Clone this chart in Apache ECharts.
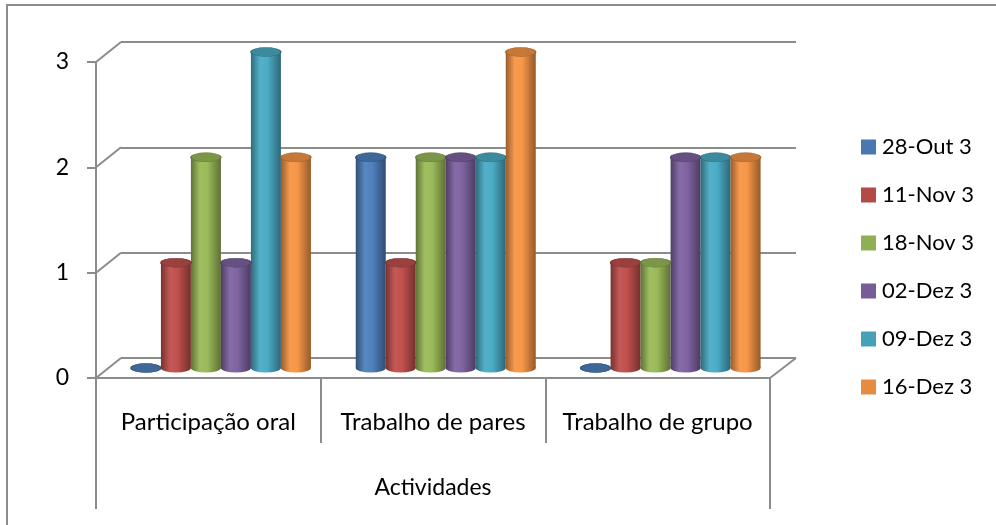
<!DOCTYPE html>
<html>
<head>
<meta charset="utf-8">
<script src="https://cdn.jsdelivr.net/npm/echarts@6/dist/echarts.min.js"></script>
<style>
  html, body { margin: 0; padding: 0; background: #fff; }
  #main { width: 996px; height: 525px; }
</style>
</head>
<body>
<div id="main"></div>
<script>
// categorias e valores
var categories = ['Participação oral', 'Trabalho de pares', 'Trabalho de grupo'];
var seriesNames = ['28-Out 3', '11-Nov 3', '18-Nov 3', '02-Dez 3', '09-Dez 3', '16-Dez 3'];
var out28 = [0, 2, 0];
var nov11 = [1, 1, 1];
var nov18 = [2, 2, 1];
var dez02 = [1, 2, 2];
var dez09 = [3, 2, 2];
var dez16 = [2, 3, 2];
var yTicks = [0, 1, 2, 3];
var axisName = 'Actividades';

var seriesData = [out28, nov11, nov18, dez02, dez09, dez16];
var colors = ['#4F81BD', '#C0504D', '#9BBB59', '#8064A2', '#4BACC6', '#F79646'];
var gray = '#8c8c8c';
var font = 'Lato';
var barW = 30;

function shade(hex, f) {
    var n = parseInt(hex.slice(1), 16);
    var r = (n >> 16) & 255, g = (n >> 8) & 255, b = n & 255;
    function c(v) {
        v = f < 1 ? v * f : v + (255 - v) * (f - 1);
        return Math.max(0, Math.min(255, Math.round(v)));
    }
    return 'rgb(' + c(r) + ',' + c(g) + ',' + c(b) + ')';
}

function cylGrad(col) {
    return new echarts.graphic.LinearGradient(0, 0, 1, 0, [
        {offset: 0, color: shade(col, 0.62)},
        {offset: 0.3, color: shade(col, 1.05)},
        {offset: 0.55, color: col},
        {offset: 1, color: shade(col, 0.6)}
    ]);
}

var series = [];
seriesNames.forEach(function (name, i) {
    var col = colors[i];
    var off = (i - (seriesNames.length - 1) / 2) * barW;
    // base do cilindro
    series.push({
        name: name, type: 'scatter', xAxisIndex: 3, yAxisIndex: 2,
        symbol: 'circle', symbolSize: [barW, 9], symbolOffset: [off, 0],
        itemStyle: {color: cylGrad(col), opacity: 1},
        data: seriesData[i].map(function () { return 0; }),
        silent: true, z: 2
    });
    // corpo
    series.push({
        name: name, type: 'bar', xAxisIndex: 3, yAxisIndex: 2,
        barWidth: barW, barGap: '0%', barCategoryGap: '20%',
        itemStyle: {color: cylGrad(col)},
        data: seriesData[i], z: 3
    });
    // topo
    series.push({
        name: name, type: 'scatter', xAxisIndex: 3, yAxisIndex: 2,
        symbol: 'circle', symbolSize: [barW, 9], symbolOffset: [off, 0],
        itemStyle: {color: shade(col, 0.8), borderColor: shade(col, 0.65), borderWidth: 0.8, opacity: 1},
        data: seriesData[i], silent: true, z: 4
    });
});

var chart = echarts.init(document.getElementById('main'));
var option = {
    animation: false,
    backgroundColor: '#fff',
    textStyle: {fontFamily: font},
    legend: {
        orient: 'vertical',
        left: 861,
        top: 136,
        padding: 0,
        itemWidth: 15,
        itemHeight: 15,
        itemGap: 26,
        icon: 'rect',
        data: seriesNames.map(function (n, i) {
            return {name: n, itemStyle: {color: shade(colors[i], 0.93)}};
        }),
        textStyle: {fontFamily: font, fontSize: 22, color: '#000', padding: [0, 0, 0, 1]}
    },
    grid: [
        {left: 96, right: 226, top: 62, bottom: 147},     // frente
        {left: 121, right: 200, top: 42, bottom: 167},    // parede do fundo
        {left: 108.5, right: 213, top: 52, bottom: 157}   // plano dos cilindros
    ],
    xAxis: [
        {
            gridIndex: 0, type: 'category', data: categories, position: 'bottom',
            axisLine: {show: true, lineStyle: {color: gray, width: 2}},
            axisTick: {show: true, interval: 0, length: 65, lineStyle: {color: gray, width: 2}},
            axisLabel: {interval: 0, margin: 32, fontSize: 24, color: '#000', fontFamily: font}
        },
        {
            gridIndex: 0, type: 'category', data: [axisName], position: 'bottom', offset: 0,
            axisLine: {show: false},
            axisTick: {show: true, length: 131, lineStyle: {color: gray, width: 2}},
            axisLabel: {margin: 98, fontSize: 23, color: '#000', fontFamily: font}
        },
        {gridIndex: 1, type: 'category', data: categories, show: false},
        {gridIndex: 2, type: 'category', data: categories, show: false}
    ],
    yAxis: [
        {
            gridIndex: 0, type: 'value', min: 0, max: 3, interval: 1,
            axisLine: {show: true, lineStyle: {color: gray, width: 2}},
            axisTick: {show: true, length: 9, lineStyle: {color: gray, width: 2}},
            axisLabel: {margin: 27, fontSize: 23, color: '#000', fontFamily: font},
            splitLine: {show: false}
        },
        {
            gridIndex: 1, type: 'value', min: 0, max: 3, interval: 1,
            axisLine: {show: false}, axisTick: {show: false}, axisLabel: {show: false},
            splitLine: {show: true, lineStyle: {color: gray, width: 2}}
        },
        {gridIndex: 2, type: 'value', min: 0, max: 3, interval: 1, show: false}
    ],
    series: series
};
chart.setOption(option);

// ligações diagonais entre a frente e o fundo
var diag = [];
yTicks.forEach(function (t) {
    var f = chart.convertToPixel({yAxisIndex: 0}, t);
    var b = chart.convertToPixel({yAxisIndex: 1}, t);
    diag.push({type: 'line', shape: {x1: 96, y1: f, x2: 121, y2: b},
        style: {stroke: gray, lineWidth: 2}, z: 1});
});
var f0 = chart.convertToPixel({yAxisIndex: 0}, 0);
var b0 = chart.convertToPixel({yAxisIndex: 1}, 0);
diag.push({type: 'line', shape: {x1: 770, y1: f0, x2: 796, y2: b0},
    style: {stroke: gray, lineWidth: 2}, z: 1});
// moldura da área do gráfico
diag.push({type: 'rect', shape: {x: 7, y: 5, width: 1100, height: 600},
    style: {fill: null, stroke: gray, lineWidth: 2}, z: 0});
chart.setOption({graphic: diag});
</script>
</body>
</html>
